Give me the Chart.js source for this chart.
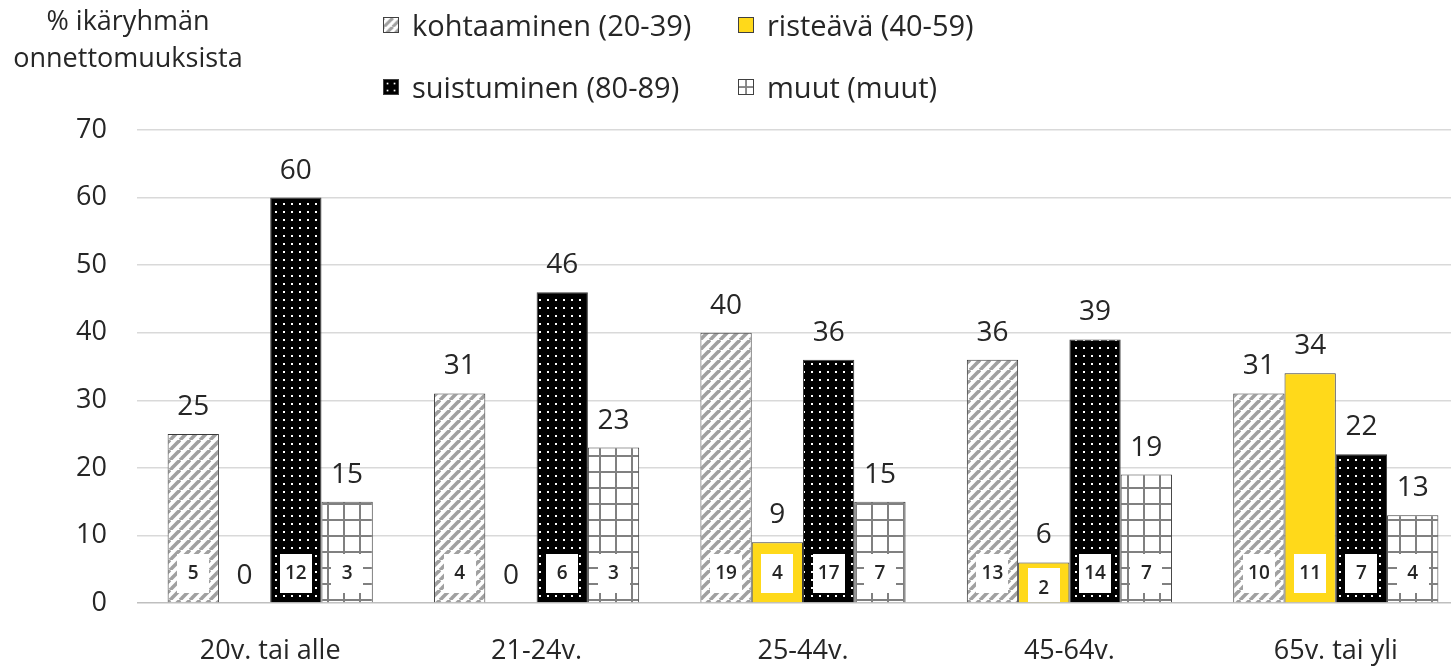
<!DOCTYPE html>
<html><head><meta charset="utf-8">
<script src="https://cdn.jsdelivr.net/npm/chart.js@4/dist/chart.umd.min.js"></script>
<style>
html,body{margin:0;padding:0;background:#fff;overflow:hidden;width:1451px;height:666px}
#wrap{position:absolute;left:0;top:0;width:1470px;height:666px}
.t{position:absolute;font-family:'Open Sans',sans-serif;color:#262626;white-space:nowrap}
#ytitle{left:0;top:1px;width:256px;text-align:center;font-size:27px;line-height:37px}
.leg{font-size:29px;line-height:36px;display:flex;align-items:center}
.leg canvas{width:16px;height:16px;margin-right:13px;box-sizing:border-box;border:1px solid #404040}
</style></head>
<body>
<div id="wrap">
<canvas id="c" width="1470" height="666"></canvas>
</div>
<div class="t" id="ytitle">% ikäryhmän<br>onnettomuuksista</div>
<div class="t leg" style="left:383px;top:7px"><canvas id="s0" width="16" height="16"></canvas><span>kohtaaminen (20-39)</span></div>
<div class="t leg" style="left:738px;top:7px"><canvas id="s1" width="16" height="16"></canvas><span>risteävä (40-59)</span></div>
<div class="t leg" style="left:383px;top:69px"><canvas id="s2" width="16" height="16"></canvas><span>suistuminen (80-89)</span></div>
<div class="t leg" style="left:738px;top:69px"><canvas id="s3" width="16" height="16"></canvas><span>muut (muut)</span></div>
<script>
const categories = ['20v. tai alle', '21-24v.', '25-44v.', '45-64v.', '65v. tai yli'];
const seriesNames = ['kohtaaminen (20-39)', 'risteävä (40-59)', 'suistuminen (80-89)', 'muut (muut)'];
const kohtaaminen = [25, 31, 40, 36, 31];
const risteava = [0, 0, 9, 6, 34];
const suistuminen = [60, 46, 36, 39, 22];
const muut = [15, 23, 15, 19, 13];
const kohtaaminenN = [5, 4, 19, 13, 10];
const risteavaN = [null, null, 4, 2, 11];
const suistuminenN = [12, 6, 17, 14, 7];
const muutN = [3, 3, 7, 7, 4];
const yMin = 0, yMax = 70, yStep = 10;

const FONT = "'Open Sans', sans-serif";
const TXT = '#262626';

function makeTile(w, h, draw) {
  const c = document.createElement('canvas');
  c.width = w; c.height = h;
  draw(c.getContext('2d'), w, h);
  return c;
}
const ctx0 = document.getElementById('c').getContext('2d');
const hatchTile = makeTile(10, 10, (g, w, h) => {
  g.fillStyle = '#fff'; g.fillRect(0, 0, w, h);
  g.strokeStyle = '#a0a0a0'; g.lineWidth = 3.6;
  for (const o of [-10, 0, 10]) { g.beginPath(); g.moveTo(o, h); g.lineTo(o + w, 0); g.stroke(); }
});
const dotTile = makeTile(8, 8, (g, w, h) => {
  g.fillStyle = '#000'; g.fillRect(0, 0, w, h);
  g.fillStyle = '#fff'; g.fillRect(3, 3, 2, 2);
});
const gridTile = makeTile(16, 16, (g, w, h) => {
  g.fillStyle = '#fff'; g.fillRect(0, 0, w, h);
  g.fillStyle = '#808080'; g.fillRect(7, 0, 2, h); g.fillRect(0, 7, w, 2);
});
const fills = [
  ctx0.createPattern(hatchTile, 'repeat'),
  '#FFD91A',
  ctx0.createPattern(dotTile, 'repeat'),
  ctx0.createPattern(gridTile, 'repeat')
];
[0,1,2,3].forEach(i => {
  const sc = document.getElementById('s' + i).getContext('2d');
  sc.fillStyle = (i === 1) ? fills[1] : sc.createPattern([hatchTile, null, dotTile, gridTile][i], 'repeat');
  sc.fillRect(0, 0, 16, 16);
});

const values = [kohtaaminen, risteava, suistuminen, muut];
const counts = [kohtaaminenN, risteavaN, suistuminenN, muutN];

const labelPlugin = {
  id: 'labels',
  afterDatasetsDraw(chart) {
    const c = chart.ctx;
    const base = chart.scales.y.getPixelForValue(0);
    const area = chart.chartArea;
    chart.data.datasets.forEach((ds, di) => {
      const meta = chart.getDatasetMeta(di);
      meta.data.forEach((bar, i) => {
        const v = ds.data[i];
        c.save();
        c.font = `28px ${FONT}`;
        c.fillStyle = TXT;
        c.textAlign = 'center';
        c.textBaseline = 'middle';
        c.fillText(String(v), bar.x, bar.y - 27);
        c.restore();
        const n = counts[di][i];
        if (n !== null && n !== undefined) {
          const cy = Math.max(base - 30, bar.y + 25);
          const bw = 32, bh = 39;
          c.save();
          c.beginPath();
          c.rect(area.left, area.top, area.right - area.left, base - area.top - 1);
          c.clip();
          c.fillStyle = '#fff';
          c.fillRect(Math.round(bar.x - bw / 2), Math.round(cy - bh / 2), bw, bh);
          c.font = `600 19px ${FONT}`;
          c.fillStyle = TXT;
          c.textAlign = 'center';
          c.textBaseline = 'middle';
          c.fillText(String(n), bar.x, cy + 1);
          c.restore();
        }
      });
    });
  }
};

new Chart(document.getElementById('c'), {
  type: 'bar',
  data: {
    labels: categories,
    datasets: values.map((arr, i) => ({
      label: seriesNames[i],
      data: arr,
      backgroundColor: fills[i],
      borderColor: '#3a3a3a',
      borderWidth: 1,
      borderSkipped: 'start',
      categoryPercentage: 0.77,
      barPercentage: 1.0
    }))
  },
  options: {
    responsive: false,
    animation: false,
    devicePixelRatio: 1,
    layout: { padding: { top: 130, right: 1, left: 0, bottom: 0 } },
    plugins: { legend: { display: false }, tooltip: { enabled: false } },
    scales: {
      x: {
        grid: { display: false },
        border: { display: false },
        ticks: { font: { family: FONT, size: 27 }, color: TXT, padding: 24, maxRotation: 0 },
        afterFit(s) { s.height = 63; }
      },
      y: {
        min: yMin, max: yMax,
        ticks: { stepSize: yStep, font: { family: FONT, size: 27 }, color: TXT, padding: 30 },
        grid: { color: (ctx) => ctx.tick && ctx.tick.value === 0 ? '#bfbfbf' : '#d9d9d9', lineWidth: 1.5, drawTicks: false },
        border: { display: false },
        afterFit(s) { s.width = 137; }
      }
    }
  },
  plugins: [labelPlugin]
});
</script>
</body></html>
